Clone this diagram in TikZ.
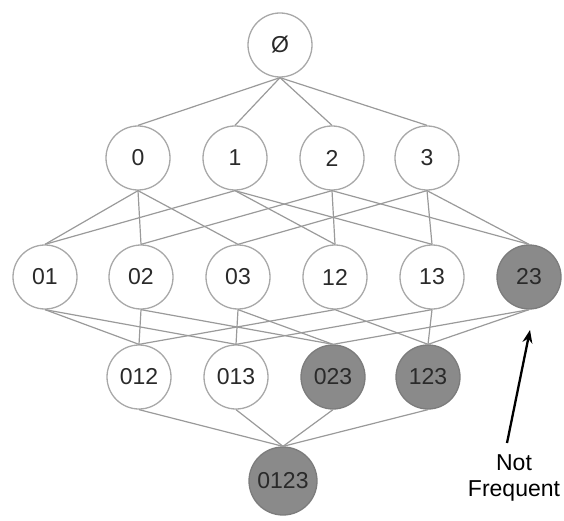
\documentclass[tikz,border=0pt]{standalone}
\usepackage{fontspec}
\setmainfont{Liberation Sans}
\usetikzlibrary{arrows.meta}
\definecolor{edgegray}{HTML}{9A9A9A}
\definecolor{ringgray}{HTML}{A8A8A8}
\definecolor{fillgray}{HTML}{8A8A8A}
\definecolor{textgray}{HTML}{2A2A2A}
\begin{document}
\begin{tikzpicture}[x=1pt,y=-1pt,
  setnode/.style={circle,draw=ringgray,line width=1.3pt,fill=white,minimum size=64pt,inner sep=0pt,font=\fontsize{23}{25}\selectfont,text=textgray},
  infreq/.style={setnode,fill=fillgray,draw=fillgray!90!black},
  lnk/.style={draw=edgegray,line width=1.2pt}]
\useasboundingbox (0,0) rectangle (564,521);
\node[setnode] (e) at (280,45) {Ø};
\node[setnode] (n0) at (138,158) {0};
\node[setnode] (n1) at (235,158) {1};
\node[setnode] (n2) at (332,158) {2};
\node[setnode] (n3) at (427,158) {3};
\node[setnode] (n01) at (45,277) {01};
\node[setnode] (n02) at (141,277) {02};
\node[setnode] (n03) at (238,277) {03};
\node[setnode] (n12) at (335,277) {12};
\node[setnode] (n13) at (432,277) {13};
\node[infreq] (n23) at (529,277) {23};
\node[setnode] (n012) at (139,377) {012};
\node[setnode] (n013) at (236,377) {013};
\node[infreq] (n023) at (333,377) {023};
\node[infreq] (n123) at (428,377) {123};
\node[infreq,minimum size=68pt] (n0123) at (283,481) {0123};
\foreach \a/\b in {e/n0,e/n1,e/n2,e/n3,
  n0/n01,n0/n02,n0/n03,n1/n01,n1/n12,n1/n13,n2/n02,n2/n12,n2/n23,n3/n03,n3/n13,n3/n23,
  n01/n012,n01/n013,n02/n012,n02/n023,n03/n013,n03/n023,n12/n012,n12/n123,n13/n013,n13/n123,n23/n023,n23/n123,
  n012/n0123,n013/n0123,n023/n0123,n123/n0123}
  \draw[lnk] (\a.south) -- (\b.north);
\coordinate (tail) at (507,443);
\coordinate (tip) at (530,330);
\draw[line width=2.3pt,-{Stealth[length=13pt,width=10pt]}] (tail) -- (tip);
\node[font=\fontsize{23}{26}\selectfont,text=black,align=center,anchor=north] (lbl) at (514,451) {Not\\Frequent};
\end{tikzpicture}
\end{document}
